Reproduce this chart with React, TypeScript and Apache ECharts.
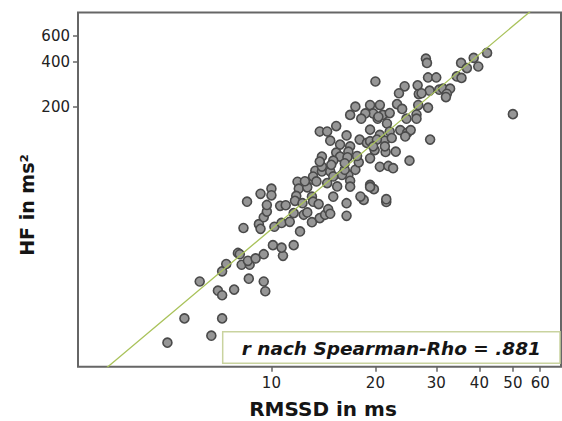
import React, { useEffect, useRef } from "react";
import * as echarts from "echarts";

// RMSSD (ms) and HF (ms²) values
const rmssd = [
  5.0, 5.6, 6.7, 7.2, 6.2, 7.0, 7.2, 7.8, 8.6, 9.5, 9.6, 7.2, 7.4, 8.0, 8.1, 8.2, 8.65, 8.55, 9.0, 9.5,
  10.1, 10.8, 10.7, 11.6, 8.3, 9.2, 9.3, 9.5, 9.7, 9.7, 10.6, 11.0, 8.5, 9.3, 10.0, 10.0, 10.2, 10.7, 11.3, 12.1,
  11.9, 12.0, 11.8, 11.7, 12.7, 13.2, 12.5, 13.4, 14.0, 14.0, 13.2, 13.5, 13.1, 14.5, 15.5, 15.1, 12.3, 13.2, 13.7, 11.6,
  12.4, 12.7, 13.1, 13.8, 14.3, 14.6, 14.8, 16.7, 16.9, 16.9, 18.5, 19.3, 19.8, 21.5, 16.5, 16.5, 16.0, 16.3, 14.8, 15.1,
  17.5, 17.9, 20.6, 21.8, 22.5, 25.1, 19.3, 18.1, 21.5, 17.5, 16.9, 19.3, 19.7, 18.7, 18.2, 20.6, 21.0, 20.3, 21.6, 15.4,
  13.8, 14.5, 14.8, 16.5, 15.8, 19.3, 18.0, 18.9, 19.3, 20.6, 21.3, 16.9, 16.7, 15.4, 15.8, 14.0, 13.8, 15.1, 14.9, 16.6,
  17.7, 16.3, 19.3, 19.9, 21.4, 20.2, 19.7, 21.3, 28.0, 28.2, 35.4, 28.4, 30.0, 34.4, 35.5, 20.0, 24.3, 26.5, 26.7, 23.4,
  28.7, 30.6, 31.4, 32.9, 32.2, 32.0, 27.2, 23.1, 23.9, 26.6, 28.4, 20.4, 22.0, 24.6, 26.3, 26.3, 22.0, 23.6, 24.7, 25.3,
  28.8, 24.4, 22.3, 22.9, 42.1, 38.5, 36.8, 39.7, 50.0
];
const hf = [
  5.3, 7.7, 5.9, 7.7, 13.6, 11.8, 11.0, 12.0, 14.2, 13.6, 11.7, 15.9, 17.8, 21.1, 20.7, 17.6, 17.6, 18.7, 19.4, 20.7,
  23.8, 20.2, 22.9, 23.8, 31.0, 32.9, 30.6, 36.6, 39.9, 44.2, 43.6, 44.0, 46.5, 52.5, 56.8, 51.3, 31.6, 33.5, 34.1, 29.4,
  63.2, 56.8, 50.8, 47.1, 58.0, 65.2, 63.7, 74.8, 74.0, 79.8, 68.5, 63.5, 50.2, 61.9, 58.8, 50.2, 45.4, 46.5, 44.8, 39.0,
  38.0, 39.4, 33.9, 36.1, 38.0, 41.4, 38.6, 70.2, 64.2, 58.6, 47.8, 60.2, 56.4, 46.3, 45.4, 37.4, 70.2, 76.0, 74.0, 68.6,
  76.0, 85.2, 79.6, 80.6, 77.9, 87.5, 58.4, 50.3, 48.3, 201, 177, 206, 181, 181, 167, 206, 177, 167, 155, 149,
  137, 137, 119, 129, 112, 141, 121, 115, 118, 130, 119, 109, 100.5, 99, 93.1, 93.1, 86.2, 87.5, 82, 92.2,
  94, 84, 90.7, 103, 100, 121, 109, 109, 421, 394, 394, 315, 315, 320, 313, 296, 275, 279, 244, 247,
  257, 261, 265, 265, 245, 233, 247, 209, 194, 206, 198, 172, 182, 167, 178, 167, 137, 140, 134, 140,
  121, 127, 124, 100.5, 460, 426, 364, 373, 179
];

// Regression line end points (RMSSD, HF)
const fitLineX = [3, 70];
const fitLineY = [2.93, 1337];

const xTicks = [10, 20, 30, 40, 50, 60];
const yTicks = [200, 400, 600];

export default function App() {
  const ref = useRef<HTMLDivElement>(null);
  useEffect(() => {
    document.body.style.margin = "0";
    const chart = echarts.init(ref.current!, null, { renderer: "svg" });
    const tickStyle = { color: "#666", width: 1.5 };
    const labelStyle = {
      fontFamily: "DejaVu Sans",
      fontSize: 15,
      color: "#222",
      formatter: (v: number) => String(Math.round(v)),
    };
    chart.setOption({
      animation: false,
      backgroundColor: "#fff",
      grid: {
        left: 78,
        top: 12.5,
        right: 1,
        bottom: 54.3,
        show: true,
        borderColor: "#666",
        borderWidth: 2,
      },
      xAxis: {
        type: "log",
        logBase: 10,
        min: 2.755,
        max: 68.9,
        axisLine: { show: false },
        splitLine: { show: false },
        minorTick: { show: false },
        axisTick: { show: true, customValues: xTicks, length: 5, lineStyle: tickStyle },
        axisLabel: { ...labelStyle, customValues: xTicks, margin: 9 },
      },
      yAxis: {
        type: "log",
        logBase: 10,
        min: 3.66,
        max: 857,
        axisLine: { show: false },
        splitLine: { show: false },
        minorTick: { show: false },
        axisTick: { show: true, customValues: yTicks, length: 5, lineStyle: tickStyle },
        axisLabel: { ...labelStyle, customValues: yTicks, margin: 8 },
      },
      series: [
        {
          type: "scatter",
          data: rmssd.map((x, i) => [x, hf[i]]),
          symbolSize: 9,
          itemStyle: { color: "#969696", borderColor: "#4a4a4a", borderWidth: 1.6, opacity: 1 },
          z: 2,
        },
        {
          type: "line",
          data: fitLineX.map((x, i) => [x, fitLineY[i]]),
          symbol: "none",
          clip: true,
          lineStyle: { color: "#a9c25a", width: 1.3 },
          z: 3,
        },
      ],
      graphic: [
        {
          type: "rect",
          z: 10,
          shape: { x: 222.7, y: 331.7, width: 337.3, height: 31.6 },
          style: { fill: "#fff", stroke: "#c9d39f", lineWidth: 1.5 },
        },
        {
          type: "text",
          z: 11,
          x: 391.3,
          y: 348,
          style: {
            text: "r nach Spearman-Rho = .881",
            font: 'italic bold 18.5px "DejaVu Sans"',
            fill: "#151515",
            align: "center",
            verticalAlign: "middle",
          },
        },
        {
          type: "text",
          z: 11,
          x: 323,
          y: 409,
          style: {
            text: "RMSSD in ms",
            font: 'bold 20px "DejaVu Sans"',
            fill: "#151515",
            align: "center",
            verticalAlign: "middle",
          },
        },
        {
          type: "text",
          z: 11,
          x: 27,
          y: 205,
          rotation: Math.PI / 2,
          style: {
            text: "HF in ms²",
            font: 'bold 19px "DejaVu Sans"',
            fill: "#151515",
            align: "center",
            verticalAlign: "middle",
          },
        },
      ],
    });
    return () => chart.dispose();
  }, []);
  return <div ref={ref} style={{ width: 562, height: 421 }} />;
}
